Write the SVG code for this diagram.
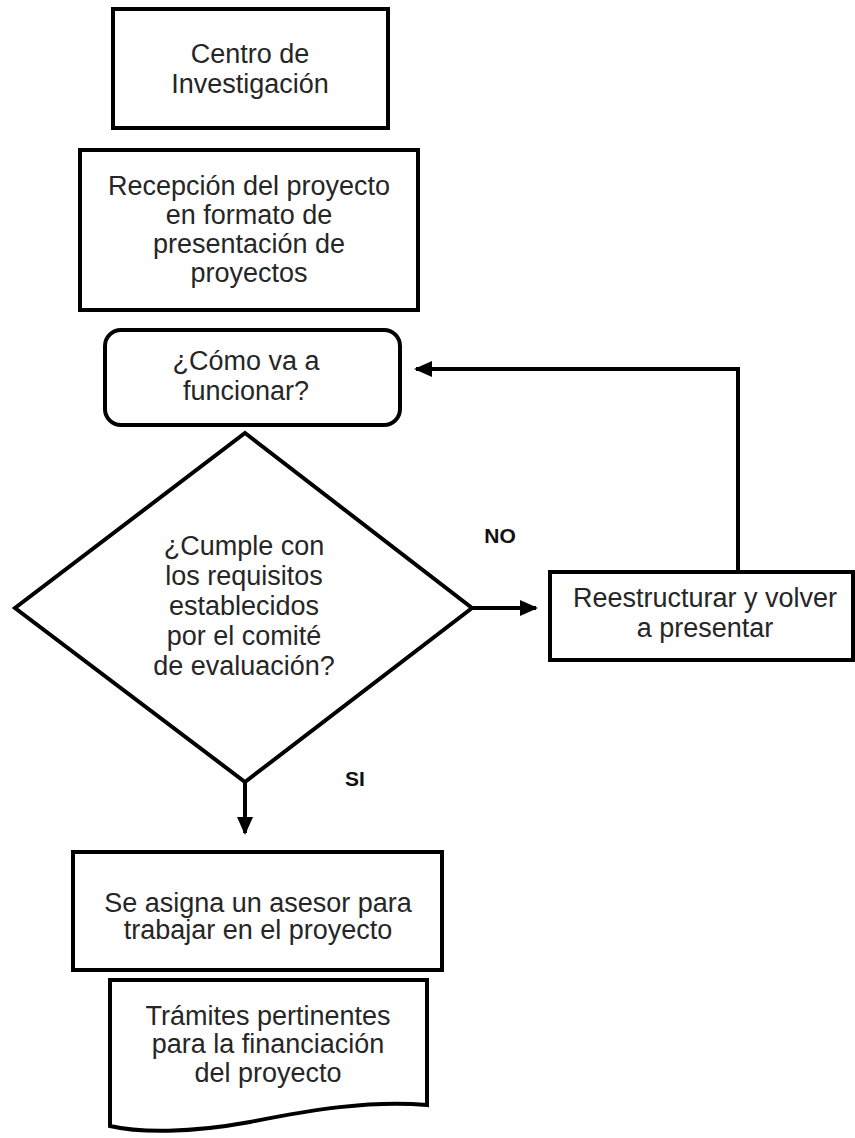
<svg xmlns="http://www.w3.org/2000/svg" width="855" height="1138" viewBox="0 0 855 1138">
<style>
.b{fill:#fff;stroke:#000;stroke-width:4}
.t{font-family:"Liberation Sans",Arial,sans-serif;font-size:27px;fill:#262626;text-anchor:middle}
.l{font-family:"Liberation Sans",Arial,sans-serif;font-size:21px;font-weight:bold;fill:#111;text-anchor:middle}
.c{fill:none;stroke:#000;stroke-width:4}
</style>
<defs>
<marker id="ah" markerWidth="4.5" markerHeight="4" refX="4" refY="2" orient="auto" markerUnits="strokeWidth">
<path d="M0,0 L4.5,2 L0,4 Z" fill="#000"/>
</marker>
</defs>
<rect width="855" height="1138" fill="#fff"/>
<g id="connectors">
<path class="c" d="M472,608 H536" marker-end="url(#ah)"/>
<path class="c" d="M738,572 V369 H416" marker-end="url(#ah)"/>
<path class="c" d="M245,782 V833" marker-end="url(#ah)"/>
</g>
<g id="n1">
<rect class="b" x="113" y="9" width="275" height="119"/>
<text class="t" x="250" y="63">Centro de</text>
<text class="t" x="250" y="93">Investigación</text>
</g>
<g id="n2">
<rect class="b" x="80" y="150" width="338" height="160"/>
<text class="t" x="249" y="195">Recepción del proyecto</text>
<text class="t" x="249" y="224">en formato de</text>
<text class="t" x="249" y="253">presentación de</text>
<text class="t" x="249" y="282">proyectos</text>
</g>
<g id="n3">
<rect class="b" x="105" y="330" width="295" height="95" rx="16"/>
<text class="t" x="246" y="370">¿Cómo va a</text>
<text class="t" x="246" y="400">funcionar?</text>
</g>
<g id="n4">
<path class="b" d="M245,433 L472,608 L245,782 L15,608 Z"/>
<text class="t" x="244" y="555">¿Cumple con</text>
<text class="t" x="244" y="585">los requisitos</text>
<text class="t" x="244" y="615">establecidos</text>
<text class="t" x="244" y="645">por el comité</text>
<text class="t" x="244" y="675">de evaluación?</text>
</g>
<g id="n5">
<rect class="b" x="550" y="572" width="303" height="88"/>
<text class="t" x="705" y="607">Reestructurar y volver</text>
<text class="t" x="705" y="637">a presentar</text>
</g>
<g id="n6">
<rect class="b" x="73" y="852" width="369" height="118"/>
<text class="t" x="258" y="912">Se asigna un asesor para</text>
<text class="t" x="258" y="939">trabajar en el proyecto</text>
</g>
<g id="n7">
<path class="b" d="M110,980 H427 V1105 C370,1100 310,1110 250,1122 C190,1133 140,1133 110,1126 Z"/>
<text class="t" x="268" y="1025">Trámites pertinentes</text>
<text class="t" x="268" y="1053">para la financiación</text>
<text class="t" x="268" y="1082">del proyecto</text>
</g>
<g id="labels">
<text class="l" x="500" y="543">NO</text>
<text class="l" x="355" y="786">SI</text>
</g>
</svg>
